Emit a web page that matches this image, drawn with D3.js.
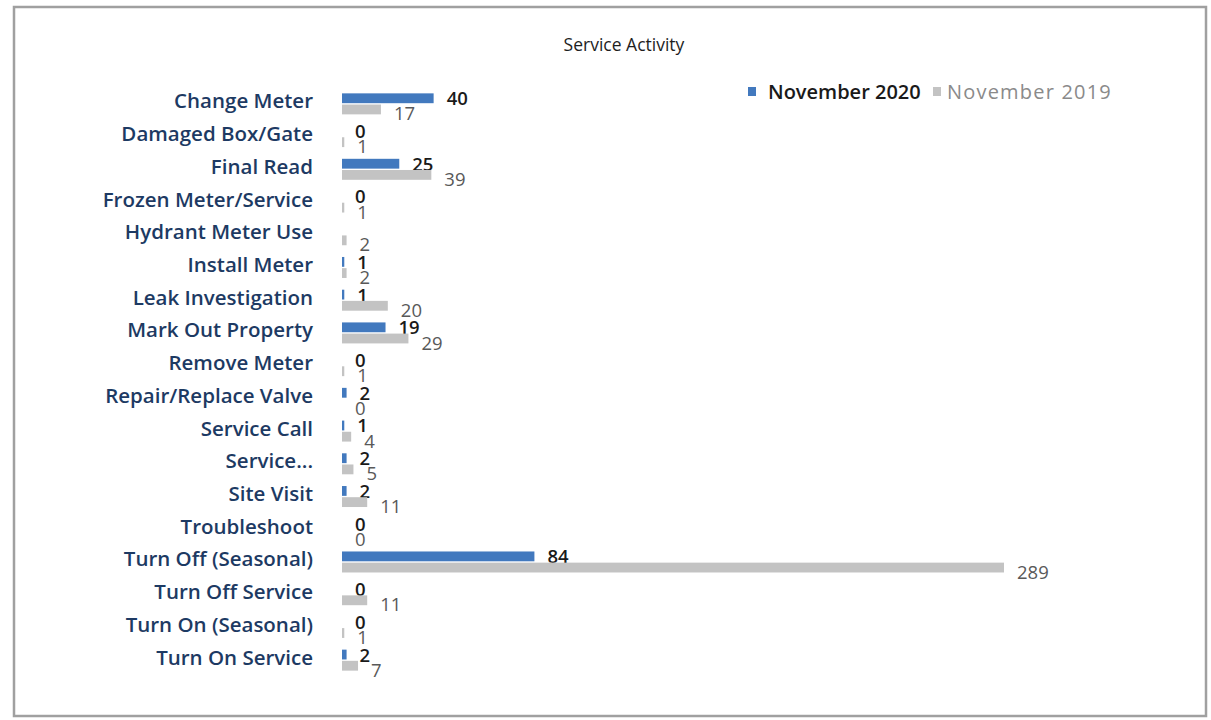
<!DOCTYPE html>
<html>
<head>
<meta charset="utf-8">
<script src="https://cdn.jsdelivr.net/npm/d3@7"></script>
<style>
  body { margin: 0; background: #fff; }
  text { font-family: "Open Sans", "Noto Sans", sans-serif; }
</style>
</head>
<body>
<script>
// Data
const categories = [
    "Change Meter", "Damaged Box/Gate", "Final Read", "Frozen Meter/Service",
    "Hydrant Meter Use", "Install Meter", "Leak Investigation", "Mark Out Property",
    "Remove Meter", "Repair/Replace Valve", "Service Call", "Service...",
    "Site Visit", "Troubleshoot", "Turn Off (Seasonal)", "Turn Off Service",
    "Turn On (Seasonal)", "Turn On Service"
];
const nov2020 = [40, 0, 25, 0, null, 1, 1, 19, 0, 2, 1, 2, 2, 0, 84, 0, 0, 2];
const nov2019 = [17, 1, 39, 1, 2, 2, 20, 29, 1, 0, 4, 5, 11, 0, 289, 11, 1, 7];
const seriesNames = ["November 2020", "November 2019"];
const seriesColors = ["#4279be", "#c3c3c3"];

const width = 1211, height = 720;

let svg = d3.select('body')
            .append('svg')
            .attr('width', width)
            .attr('height', height);

// Frame of the chart area
svg.append('rect')
   .attr('x', 14)
   .attr('y', 7)
   .attr('width', 1192)
   .attr('height', 709)
   .attr('fill', 'none')
   .attr('stroke', '#a0a0a0')
   .attr('stroke-width', 2.5);

// Title
svg.append('text')
   .attr('x', 624)
   .attr('y', 51)
   .attr('text-anchor', 'middle')
   .style('font-size', '17.5px')
   .style('fill', '#1e1e1e')
   .text('Service Activity');

// Scales
const yScale = d3.scaleBand()
                 .domain(categories)
                 .range([87, 676]);

const xScale = d3.scaleLinear()
                 .domain([0, 289])
                 .range([342, 1004]);

const inner = d3.scaleBand()
                .domain(seriesNames)
                .range([-10, 11])
                .paddingInner(0.12);

// Category labels
svg.append('g')
   .selectAll('text')
   .data(categories)
   .enter()
   .append('text')
   .attr('x', 313)
   .attr('y', d => yScale(d) + yScale.bandwidth() / 2 + 5)
   .attr('text-anchor', 'end')
   .style('font-size', '20.5px')
   .style('font-weight', 600)
   .style('fill', '#1d3a63')
   .text(d => d);

// Bars and value labels for each series
const series = [nov2020, nov2019];
series.forEach((values, si) => {
    const name = seriesNames[si];
    const rows = categories.map((c, i) => ({ cat: c, value: values[i] }))
                           .filter(d => d.value !== null);
    const g = svg.append('g');

    g.selectAll('rect')
     .data(rows)
     .enter()
     .append('rect')
     .attr('x', xScale(0))
     .attr('y', d => yScale(d.cat) + yScale.bandwidth() / 2 + inner(name))
     .attr('width', d => xScale(d.value) - xScale(0))
     .attr('height', inner.bandwidth())
     .attr('fill', seriesColors[si]);

    g.selectAll('text')
     .data(rows)
     .enter()
     .append('text')
     .attr('x', d => xScale(d.value) + 13)
     .attr('y', d => yScale(d.cat) + yScale.bandwidth() / 2 + inner(name) + inner.bandwidth() / 2 + (si === 0 ? 7 : 11))
     .style('font-size', '18.5px')
     .style('font-weight', si === 0 ? 600 : 'normal')
     .style('fill', si === 0 ? '#1a1a1a' : '#595959')
     .text(d => d.value);
});

// Legend
const legend = svg.append('g')
                  .attr('transform', 'translate(748, 92)');
const legendX = [0, 185];
seriesNames.forEach((name, i) => {
    legend.append('rect')
          .attr('x', legendX[i])
          .attr('y', -5)
          .attr('width', 8)
          .attr('height', 9)
          .attr('fill', seriesColors[i]);
    legend.append('text')
          .attr('x', legendX[i] + (i === 0 ? 20 : 14))
          .attr('y', 7)
          .style('font-size', '20px')
          .style('font-weight', i === 0 ? 600 : 'normal')
          .style('letter-spacing', i === 0 ? '0px' : '1.2px')
          .style('fill', i === 0 ? '#1a1a1a' : '#8a8a8a')
          .text(name);
});
</script>
</body>
</html>
